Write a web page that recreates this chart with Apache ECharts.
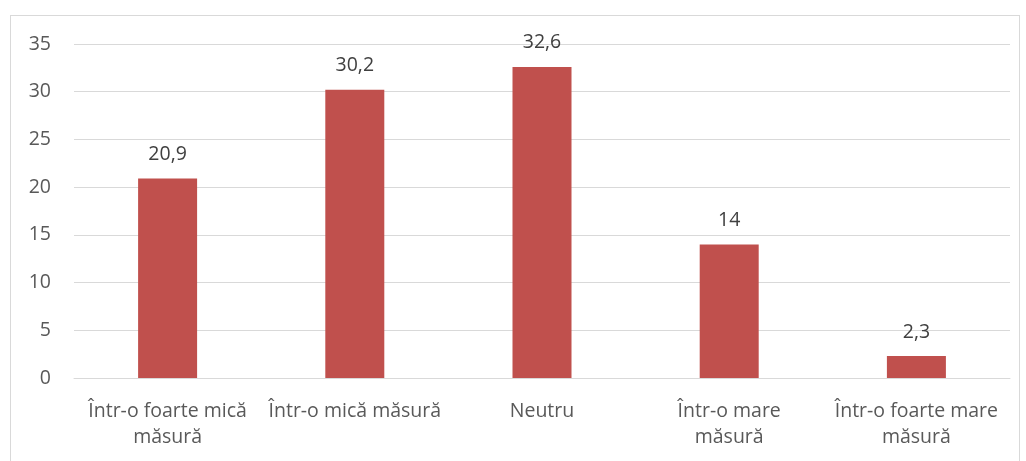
<!DOCTYPE html>
<html><head><meta charset="utf-8">
<script src="https://cdn.jsdelivr.net/npm/echarts@6/dist/echarts.min.js"></script>
<style>html,body{margin:0;padding:0;background:#fff}#c{width:1026px;height:461px}
#frame{position:absolute;left:10px;top:15px;width:1010px;height:460px;border:1px solid #d9d9d9;box-sizing:border-box;pointer-events:none}</style>
</head><body><div id="c"></div><div id="frame"></div>
<script>
const categories = ["Într-o foarte mică\nmăsură", "Într-o mică măsură", "Neutru", "Într-o mare\nmăsură", "Într-o foarte mare\nmăsură"];
const values = [20.9, 30.2, 32.6, 14, 2.3];
const yTicks = [0, 5, 10, 15, 20, 25, 30, 35];

const chart = echarts.init(document.getElementById('c'));
const font = "'Open Sans', 'Liberation Sans', sans-serif";
chart.setOption({
  animation: false,
  grid: {left: 74, right: 16, top: 44, bottom: 83},
  xAxis: {
    type: 'category', data: categories,
    axisLine: {lineStyle: {color: '#d9d9d9', width: 1}},
    axisTick: {show: false},
    axisLabel: {color: '#595959', fontSize: 19.5, fontFamily: font, margin: 20, lineHeight: 26, interval: 0}
  },
  yAxis: {
    type: 'value', min: yTicks[0], max: yTicks[yTicks.length - 1], interval: 5,
    axisLine: {show: false}, axisTick: {show: false},
    splitLine: {lineStyle: {color: '#d9d9d9', width: 1}},
    axisLabel: {color: '#595959', fontSize: 19.5, fontFamily: font, margin: 23}
  },
  series: [{
    type: 'bar', data: values, barWidth: 59,
    itemStyle: {color: '#c0504d'},
    label: {show: true, position: 'top', distance: 14, color: '#404040', fontSize: 19.5, fontFamily: font,
      formatter: p => String(p.value).replace('.', ',')}
  }]
});
</script></body></html>
